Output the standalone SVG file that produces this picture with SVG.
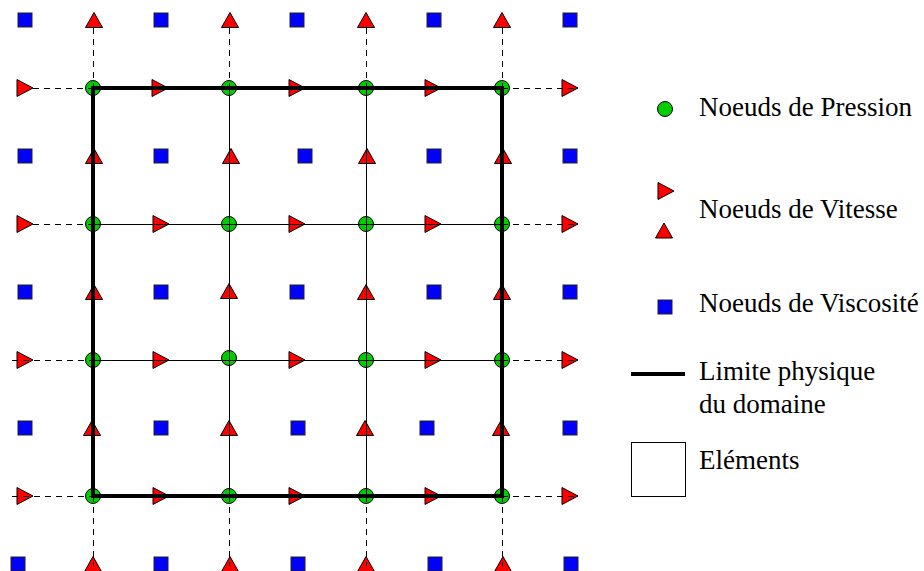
<svg xmlns="http://www.w3.org/2000/svg" xmlns:xlink="http://www.w3.org/1999/xlink" width="924" height="571" viewBox="0 0 924 571">
  <style>
    .p { fill: #00cc00; stroke: #000; stroke-width: 1; }
    .v { fill: #ff0000; stroke: #000; stroke-width: 1; stroke-linejoin: miter; }
    .mu { fill: #0000ff; stroke: #222; stroke-width: 1; }
    .dash { stroke: #000; stroke-width: 1; stroke-dasharray: 6 5; fill: none; }
    .thin { stroke: #000; stroke-width: 1; fill: none; }
    .bound { stroke: #000; stroke-width: 4; fill: none; stroke-linecap: square; }
    .lbl { font-family: "Liberation Serif", "Times New Roman", serif; font-size: 27px; fill: #000; }
  </style>
  <defs>
    <!-- pressure node -->
    <circle id="pn" class="p" cx="0" cy="0" r="7.5"/>
    <!-- horizontal velocity node -->
    <polygon id="vx" class="v" points="-8,-8.5 8,0 -8,8.5"/>
    <!-- vertical velocity node -->
    <polygon id="vy" class="v" points="0,-7.5 8.5,7.5 -8.5,7.5"/>
    <!-- viscosity node -->
    <rect id="vs" class="mu" x="-7" y="-7" width="14" height="14"/>
  </defs>

  <!-- viscosity nodes (cell corners) -->
  <g id="viscosity">
    <g id="mu-0-0"><use xlink:href="#vs" x="25" y="20"/></g>
    <g id="mu-1-0"><use xlink:href="#vs" x="161" y="20"/></g>
    <g id="mu-2-0"><use xlink:href="#vs" x="297" y="20"/></g>
    <g id="mu-3-0"><use xlink:href="#vs" x="434" y="20"/></g>
    <g id="mu-4-0"><use xlink:href="#vs" x="570" y="20"/></g>
    <g id="mu-0-1"><use xlink:href="#vs" x="25" y="156"/></g>
    <g id="mu-1-1"><use xlink:href="#vs" x="161" y="156"/></g>
    <g id="mu-2-1"><use xlink:href="#vs" x="305" y="156"/></g>
    <g id="mu-3-1"><use xlink:href="#vs" x="434" y="156"/></g>
    <g id="mu-4-1"><use xlink:href="#vs" x="570" y="156"/></g>
    <g id="mu-0-2"><use xlink:href="#vs" x="25" y="292"/></g>
    <g id="mu-1-2"><use xlink:href="#vs" x="161" y="292"/></g>
    <g id="mu-2-2"><use xlink:href="#vs" x="297" y="292"/></g>
    <g id="mu-3-2"><use xlink:href="#vs" x="434" y="292"/></g>
    <g id="mu-4-2"><use xlink:href="#vs" x="570" y="292"/></g>
    <g id="mu-0-3"><use xlink:href="#vs" x="25" y="428"/></g>
    <g id="mu-1-3"><use xlink:href="#vs" x="161" y="428"/></g>
    <g id="mu-2-3"><use xlink:href="#vs" x="298" y="428"/></g>
    <g id="mu-3-3"><use xlink:href="#vs" x="427" y="428"/></g>
    <g id="mu-4-3"><use xlink:href="#vs" x="570" y="428"/></g>
    <g id="mu-0-4"><use xlink:href="#vs" x="18" y="564"/></g>
    <g id="mu-1-4"><use xlink:href="#vs" x="161" y="564"/></g>
    <g id="mu-2-4"><use xlink:href="#vs" x="298" y="564"/></g>
    <g id="mu-3-4"><use xlink:href="#vs" x="435" y="564"/></g>
    <g id="mu-4-4"><use xlink:href="#vs" x="571" y="564"/></g>
  </g>

  <!-- vertical velocity nodes -->
  <g id="velocity-y">
    <g id="vy-0-0"><use xlink:href="#vy" x="94" y="20"/></g>
    <g id="vy-1-0"><use xlink:href="#vy" x="230" y="20"/></g>
    <g id="vy-2-0"><use xlink:href="#vy" x="366" y="20"/></g>
    <g id="vy-3-0"><use xlink:href="#vy" x="502" y="20"/></g>
    <g id="vy-0-1"><use xlink:href="#vy" x="94" y="156"/></g>
    <g id="vy-1-1"><use xlink:href="#vy" x="231" y="156"/></g>
    <g id="vy-2-1"><use xlink:href="#vy" x="367" y="156"/></g>
    <g id="vy-3-1"><use xlink:href="#vy" x="503" y="156"/></g>
    <g id="vy-0-2"><use xlink:href="#vy" x="94" y="292"/></g>
    <g id="vy-1-2"><use xlink:href="#vy" x="229" y="291"/></g>
    <g id="vy-2-2"><use xlink:href="#vy" x="366" y="292"/></g>
    <g id="vy-3-2"><use xlink:href="#vy" x="502" y="292"/></g>
    <g id="vy-0-3"><use xlink:href="#vy" x="92" y="428"/></g>
    <g id="vy-1-3"><use xlink:href="#vy" x="229" y="428"/></g>
    <g id="vy-2-3"><use xlink:href="#vy" x="365" y="428"/></g>
    <g id="vy-3-3"><use xlink:href="#vy" x="501" y="428"/></g>
    <g id="vy-0-4"><use xlink:href="#vy" x="93" y="564"/></g>
    <g id="vy-1-4"><use xlink:href="#vy" x="230" y="564"/></g>
    <g id="vy-2-4"><use xlink:href="#vy" x="366" y="564"/></g>
    <g id="vy-3-4"><use xlink:href="#vy" x="503" y="564"/></g>
  </g>

  <!-- horizontal velocity nodes -->
  <g id="velocity-x">
    <g id="vx-0-0"><use xlink:href="#vx" x="25" y="88"/></g>
    <g id="vx-1-0"><use xlink:href="#vx" x="160" y="88"/></g>
    <g id="vx-2-0"><use xlink:href="#vx" x="297" y="88"/></g>
    <g id="vx-3-0"><use xlink:href="#vx" x="433" y="88"/></g>
    <g id="vx-4-0"><use xlink:href="#vx" x="570" y="88"/></g>
    <g id="vx-0-1"><use xlink:href="#vx" x="25" y="224"/></g>
    <g id="vx-1-1"><use xlink:href="#vx" x="161" y="224"/></g>
    <g id="vx-2-1"><use xlink:href="#vx" x="297" y="224"/></g>
    <g id="vx-3-1"><use xlink:href="#vx" x="433" y="224"/></g>
    <g id="vx-4-1"><use xlink:href="#vx" x="570" y="224"/></g>
    <g id="vx-0-2"><use xlink:href="#vx" x="25" y="360"/></g>
    <g id="vx-1-2"><use xlink:href="#vx" x="161" y="360"/></g>
    <g id="vx-2-2"><use xlink:href="#vx" x="297" y="360"/></g>
    <g id="vx-3-2"><use xlink:href="#vx" x="433" y="360"/></g>
    <g id="vx-4-2"><use xlink:href="#vx" x="570" y="360"/></g>
    <g id="vx-0-3"><use xlink:href="#vx" x="25" y="496"/></g>
    <g id="vx-1-3"><use xlink:href="#vx" x="161" y="496"/></g>
    <g id="vx-2-3"><use xlink:href="#vx" x="297" y="496"/></g>
    <g id="vx-3-3"><use xlink:href="#vx" x="433" y="496"/></g>
    <g id="vx-4-3"><use xlink:href="#vx" x="570" y="496"/></g>
  </g>

  <!-- pressure nodes (cell centres of the element grid) -->
  <g id="pressure">
    <g id="p-0-0"><use xlink:href="#pn" x="93" y="88"/></g>
    <g id="p-1-0"><use xlink:href="#pn" x="229" y="88"/></g>
    <g id="p-2-0"><use xlink:href="#pn" x="366" y="88"/></g>
    <g id="p-3-0"><use xlink:href="#pn" x="502" y="88"/></g>
    <g id="p-0-1"><use xlink:href="#pn" x="93" y="224"/></g>
    <g id="p-1-1"><use xlink:href="#pn" x="229" y="224"/></g>
    <g id="p-2-1"><use xlink:href="#pn" x="366" y="224"/></g>
    <g id="p-3-1"><use xlink:href="#pn" x="502" y="224"/></g>
    <g id="p-0-2"><use xlink:href="#pn" x="93" y="360"/></g>
    <g id="p-1-2"><use xlink:href="#pn" x="229" y="358"/></g>
    <g id="p-2-2"><use xlink:href="#pn" x="366" y="360"/></g>
    <g id="p-3-2"><use xlink:href="#pn" x="502" y="360"/></g>
    <g id="p-0-3"><use xlink:href="#pn" x="93" y="496"/></g>
    <g id="p-1-3"><use xlink:href="#pn" x="229" y="496"/></g>
    <g id="p-2-3"><use xlink:href="#pn" x="366" y="496"/></g>
    <g id="p-3-3"><use xlink:href="#pn" x="502" y="496"/></g>
  </g>

  <!-- grid lines -->
  <g id="connectors">
    <!-- ghost lines outside the domain -->
    <path class="dash" d="M93.5,28 V88 M229.5,28 V88 M366.5,28 V88 M502.5,28 V88
                          M93.5,496 V566 M229.5,496 V566 M366.5,496 V566 M502.5,496 V566
                          M33,88.5 H93 M33,224.5 H93 M12,360.5 H93 M12,496.5 H93
                          M502,88.5 H578 M502,224.5 H578 M502,360.5 H578 M502,496.5 H578"/>
    <!-- element edges inside the domain -->
    <path class="thin" d="M229.5,88 V496 M366.5,88 V496 M93,224.5 H502 M93,360.5 H502"/>
    <!-- physical boundary -->
    <rect class="bound" x="93" y="88" width="409" height="408"/>
  </g>

  <!-- legend -->
  <g id="legend">
    <g id="leg-pressure">
      <circle class="p" cx="665" cy="109" r="7.5"/>
      <text class="lbl" x="699" y="116">Noeuds de Pression</text>
    </g>
    <g id="leg-velocity">
      <polygon class="v" points="658,182.5 674,191 658,199.5"/>
      <polygon class="v" points="664,223 672.5,238 655.5,238"/>
      <text class="lbl" x="699" y="218">Noeuds de Vitesse</text>
    </g>
    <g id="leg-viscosity">
      <rect class="mu" x="658" y="300" width="14" height="14"/>
      <text class="lbl" x="699" y="312">Noeuds de Viscosité</text>
    </g>
    <g id="leg-boundary">
      <line x1="631" y1="374" x2="685" y2="374" stroke="#000" stroke-width="4"/>
      <text class="lbl" x="699" y="380">Limite physique</text>
      <text class="lbl" x="699" y="413">du domaine</text>
    </g>
    <g id="leg-element">
      <rect x="631.5" y="442.5" width="54" height="54" fill="#fff" stroke="#000" stroke-width="1"/>
      <text class="lbl" x="699" y="469">Eléments</text>
    </g>
  </g>
</svg>
